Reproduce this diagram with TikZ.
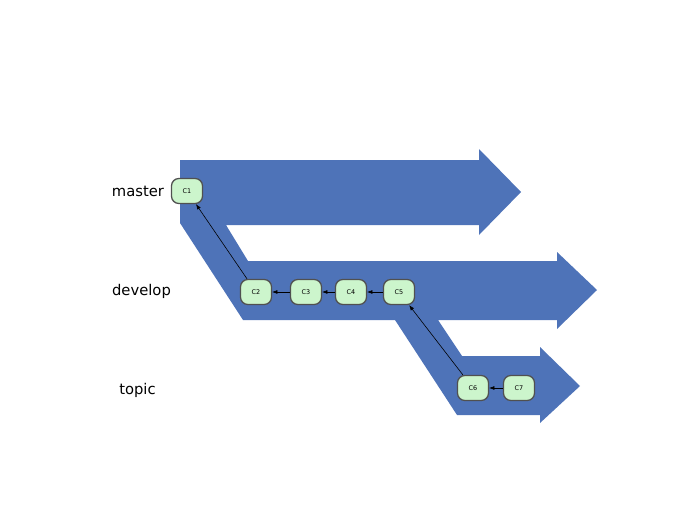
\documentclass[tikz,border=0pt]{standalone}
\usepackage{fontspec}
\setsansfont{DejaVu Sans}
\usepackage{tikz}
\usetikzlibrary{arrows.meta}

\definecolor{flow}{RGB}{78,115,184}
\definecolor{commitfill}{RGB}{204,245,204}
\definecolor{commitline}{RGB}{80,80,80}

\tikzset{
  commit/.style={draw=commitline, fill=commitfill, line width=1.1pt, rounded corners=2.2mm,
    minimum width=0.93cm, minimum height=0.75cm, inner sep=0pt, font=\sffamily\fontsize{5.5}{7}\selectfont},
  branchname/.style={font=\sffamily\fontsize{12.6}{15}\selectfont},
  parent/.style={-{Latex[length=1.6mm,width=1.2mm]}, line width=0.5pt}
}

\begin{document}
\begin{tikzpicture}[x=0.03cm, y=-0.03cm, font=\sffamily]
	\useasboundingbox (0,0) rectangle (700,525);
	% the three branches as one band
	\fill [flow] (180,160) -- (479,160) -- (479,149) -- (521,192) -- (479,235) -- (479,225)
		-- (226,225) -- (248,261) -- (557,261) -- (557,252) -- (597,290) -- (557,329) -- (557,320)
		-- (438,320) -- (462,356) -- (540,356) -- (540,347) -- (580,386) -- (540,423) -- (540,415)
		-- (457,415) -- (395,320) -- (243,320) -- (180,223) -- cycle;
	\node [branchname] (master) at (138,191) {master};
	\node [branchname] (develop) at (141.5,291) {develop};
	\node [branchname] (topic) at (137.5,390) {topic};
	\node [commit] (c1) at (187,191) {C1};
	\foreach \q/\x in {2/256, 3/306, 4/351, 5/399} {
		\node [commit] (c\q) at (\x,292) {C\q};
	}
	\node [commit] (c6) at (473,388) {C6};
	\node [commit] (c7) at (519,388) {C7};
	\draw [parent] (c2) -- (c1);
	\draw [parent] (c3) -- (c2);
	\draw [parent] (c4) -- (c3);
	\draw [parent] (c5) -- (c4);
	\draw [parent] (c6) -- (c5);
	\draw [parent] (c7) -- (c6);
\end{tikzpicture}
\end{document}
